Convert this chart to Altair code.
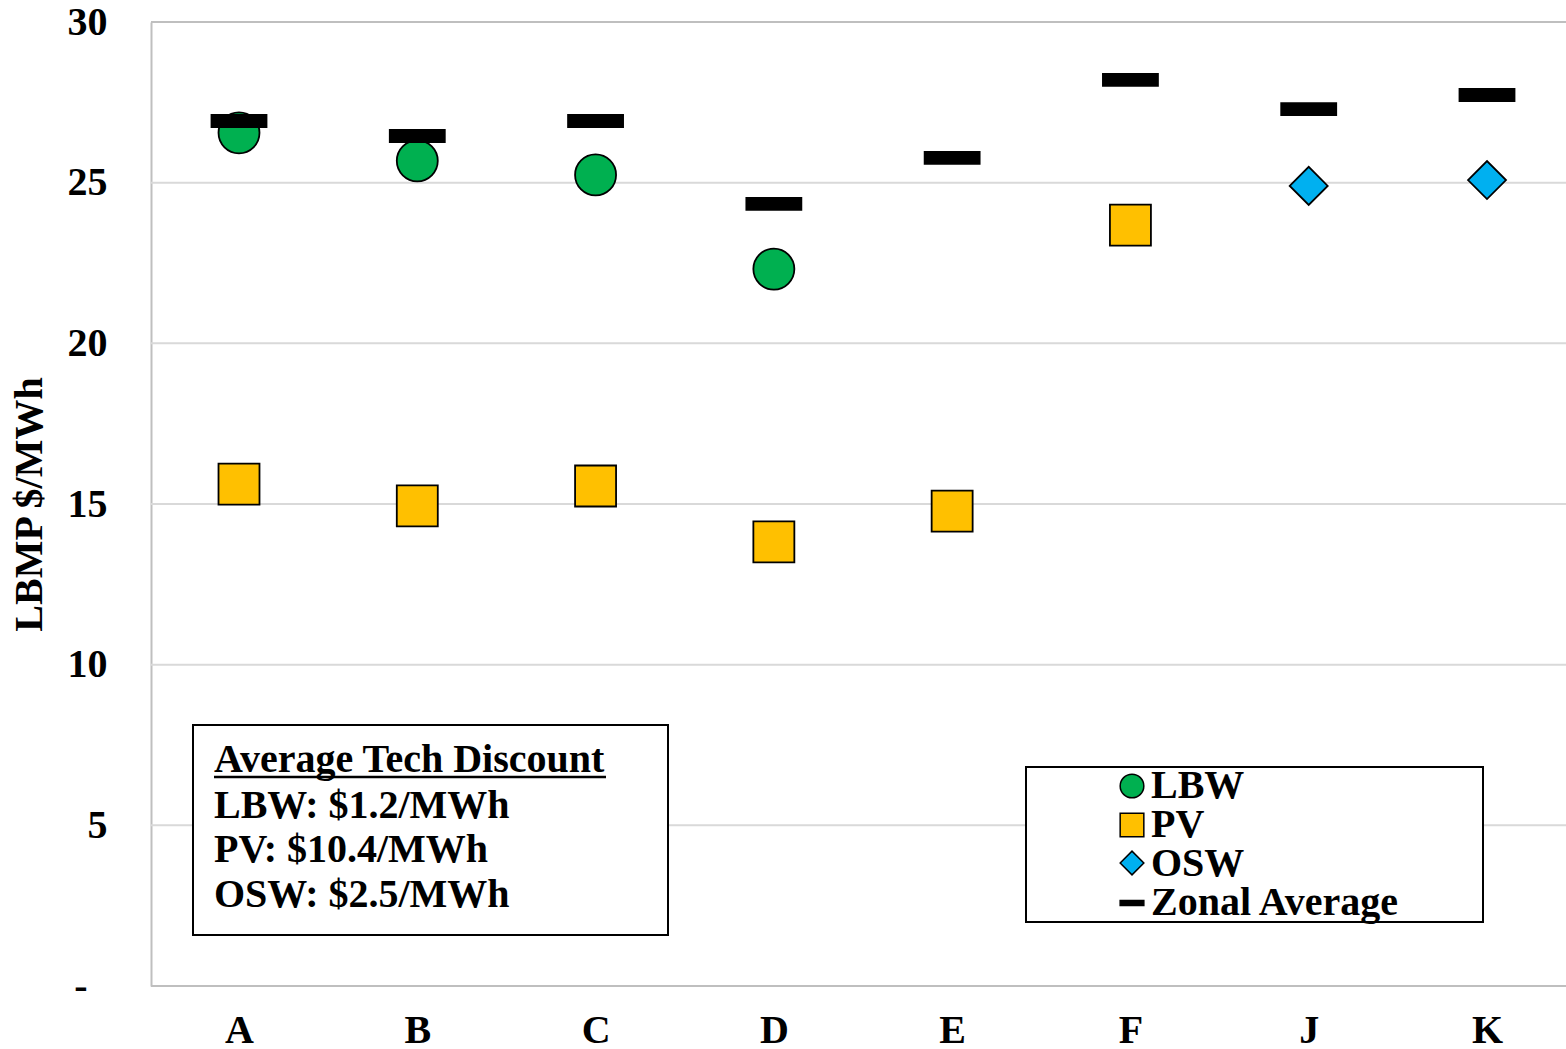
import altair as alt
import pandas as pd

zones = ["A", "B", "C", "D", "E", "F", "J", "K"]
series_names = ["LBW", "PV", "OSW", "Zonal Average"]

lbw_zones = ["A", "B", "C", "D"]
lbw_vals = [26.55, 25.68, 25.24, 22.31]
pv_zones = ["A", "B", "C", "D", "E", "F"]
pv_vals = [15.62, 14.94, 15.56, 13.82, 14.78, 23.68]
osw_zones = ["J", "K"]
osw_vals = [24.90, 25.08]
avg_zones = ["A", "B", "C", "D", "E", "F", "J", "K"]
avg_vals = [26.92, 26.45, 26.92, 24.34, 25.77, 28.20, 27.29, 27.73]

grid_vals = [5, 10, 15, 20, 25]
border_vals = [0, 30]
tick_vals = [0, 5, 10, 15, 20, 25, 30]

box_lines = ["Average Tech Discount", "LBW: $1.2/MWh", "PV: $10.4/MWh", "OSW: $2.5/MWh"]

colors = ["#00B050", "#FFC000", "#00B0F0", "#000000"]
bar_path = "M-1,-0.22H1V0.22H-1Z"
mark_sizes = [1680, 1680, 1444, 3025]

rows = []
for z, v in zip(lbw_zones, lbw_vals):
    rows.append({"zone": z, "series": "LBW", "value": v})
for z, v in zip(pv_zones, pv_vals):
    rows.append({"zone": z, "series": "PV", "value": v})
for z, v in zip(osw_zones, osw_vals):
    rows.append({"zone": z, "series": "OSW", "value": v})
for z, v in zip(avg_zones, avg_vals):
    rows.append({"zone": z, "series": "Zonal Average", "value": v})
df = pd.DataFrame(rows)

FONT = "Liberation Serif"
FS = 40
W, H = 1415, 964

yscale = alt.Scale(domain=[0, 30], nice=False, zero=True)
xscale = alt.Scale(type="point", domain=zones, range=[88, 1336], padding=0)
shape_scale = alt.Scale(domain=series_names, range=["circle", "square", "diamond", bar_path])
color_scale = alt.Scale(domain=series_names, range=colors)

x_axis = alt.Axis(title=None, domain=False, ticks=False, grid=False, labelAngle=0,
                  labelFont=FONT, labelFontSize=FS, labelFontWeight="bold",
                  labelColor="black", labelPadding=24)
y_axis = alt.Axis(title="LBMP $/MWh", values=tick_vals,
                  labelExpr="datum.value == 0 ? '-\u00a0\u00a0\u200b' : datum.label",
                  ticks=False, domain=True, domainColor="#BFBFBF", domainWidth=2,
                  grid=False,
                  labelFont=FONT, labelFontSize=FS, labelFontWeight="bold",
                  labelColor="black", labelPadding=44,
                  titleFont=FONT, titleFontSize=FS, titleFontWeight="bold",
                  titleColor="black", titlePadding=18)

series_layers = []
for name, sz in zip(series_names, mark_sizes):
    lay = alt.Chart(df).transform_filter(alt.datum.series == name).mark_point(
        filled=True, stroke="black", strokeWidth=1.8, opacity=1, size=sz).encode(
        x=alt.X("zone:N", sort=zones, scale=xscale, axis=x_axis),
        y=alt.Y("value:Q", scale=yscale, axis=y_axis),
        shape=alt.Shape("series:N", scale=shape_scale, legend=None),
        color=alt.Color("series:N", scale=color_scale, legend=None),
    )
    series_layers.append(lay)

grid = alt.Chart(pd.DataFrame({"value": grid_vals})).mark_rule(color="#D9D9D9", strokeWidth=2).encode(
    y=alt.Y("value:Q", scale=yscale, axis=y_axis), x=alt.value(0), x2=alt.value(W))

borders = alt.Chart(pd.DataFrame({"value": border_vals})).mark_rule(color="#BFBFBF", strokeWidth=2).encode(
    y=alt.Y("value:Q", scale=yscale, axis=y_axis), x=alt.value(0), x2=alt.value(W))

box_df = pd.DataFrame({"b": [0]})
text_box = alt.Chart(box_df).mark_rect(fill="white", stroke="black", strokeWidth=2).encode(
    x=alt.value(42), x2=alt.value(517), y=alt.value(703), y2=alt.value(913))
legend_box = alt.Chart(box_df).mark_rect(fill="white", stroke="black", strokeWidth=2).encode(
    x=alt.value(875), x2=alt.value(1332), y=alt.value(745), y2=alt.value(900))

baselines = [750, 796, 840, 885]
texts = []
for line, yb in zip(box_lines, baselines):
    t = alt.Chart(pd.DataFrame({"t": [line]})).mark_text(
        font=FONT, fontSize=FS, fontWeight="bold", color="black",
        align="left", baseline="alphabetic").encode(
        text="t:N", x=alt.value(63), y=alt.value(yb))
    texts.append(t)

underline = alt.Chart(box_df).mark_rule(color="black", strokeWidth=2.5).encode(
    x=alt.value(63), x2=alt.value(455), y=alt.value(755))

# legend entries (drawn with the same shape/color scales)
leg_sym_y = [764, 803, 841, 881]
leg_txt_y = [776, 815, 854, 893]
legend_layers = []
for name, sy, ty in zip(series_names, leg_sym_y, leg_txt_y):
    ldf = pd.DataFrame({"series": [name]})
    sym = alt.Chart(ldf).mark_point(filled=True, stroke="black", strokeWidth=1.5,
                                    opacity=1, size=560).encode(
        shape=alt.Shape("series:N", scale=shape_scale, legend=None),
        color=alt.Color("series:N", scale=color_scale, legend=None),
        x=alt.value(981), y=alt.value(sy))
    lab = alt.Chart(ldf).mark_text(font=FONT, fontSize=FS, fontWeight="bold", color="black",
                                   align="left", baseline="alphabetic").encode(
        text="series:N", x=alt.value(1000), y=alt.value(ty))
    legend_layers += [sym, lab]

chart = alt.layer(grid, borders, text_box, legend_box, *texts, underline, *series_layers,
                  *legend_layers).properties(
    width=W, height=H,
    padding={"left": 151, "top": 22, "right": 0, "bottom": 63},
    autosize=alt.AutoSizeParams(type="none"),
).configure_view(stroke=None).configure(background="white")

chart.save("out.html", embed_options={"renderer": "svg", "actions": False})
